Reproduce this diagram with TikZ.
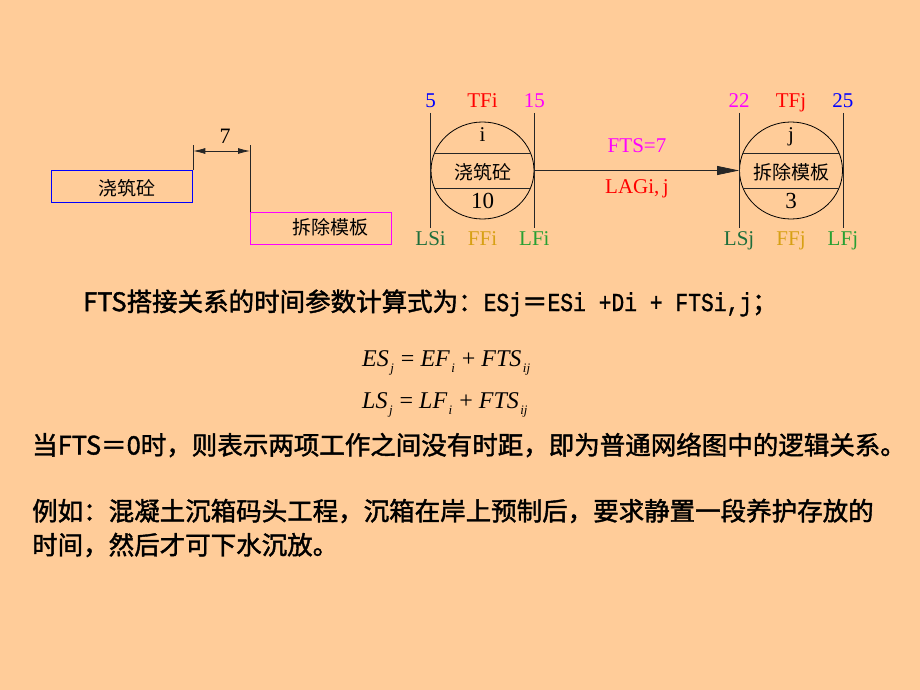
\documentclass[tikz,border=0pt]{standalone}
\usepackage{fontspec}
\usepackage{graphicx}
\setmainfont{Liberation Serif}
\newfontfamily\cjk{Noto Sans CJK SC}
\newfontfamily\cjkb[FakeBold=1.6]{Noto Sans CJK SC}
\newfontfamily\monof[FakeBold=1.2]{Liberation Mono}
\usetikzlibrary{shapes.geometric,arrows.meta,calc}
\definecolor{bg}{RGB}{255,204,153}
\definecolor{lsgreen}{RGB}{30,110,60}
\definecolor{ffgold}{RGB}{215,160,20}
\definecolor{lfgreen}{RGB}{40,160,50}
\definecolor{mag}{RGB}{255,0,255}
\newcommand{\sbx}[1]{\raisebox{-6pt}{\fontsize{13}{13}\selectfont\kern1.5pt #1\kern1pt}}
\newcommand{\mt}[1]{{\monof\fontsize{26}{26}\selectfont\scalebox{0.82}[1]{#1}}}
\tikzset{
  lbl/.style={font=\fontsize{21}{21}\selectfont, inner sep=0, anchor=base},
  cjklbl/.style={font=\cjk\fontsize{19}{19}\selectfont, inner sep=0},
  body/.style={font=\cjkb\fontsize{25.5}{25.5}\selectfont, inner sep=0, anchor=west},
  eqn/.style={font=\fontsize{24}{24}\selectfont\itshape, inner sep=0, anchor=west},
  actbox/.style={line width=1.3pt, minimum width=141pt, minimum height=32pt, inner sep=0, anchor=north west},
  evt/.style={ellipse, draw, line width=0.8pt, minimum width=103pt, minimum height=97pt, inner sep=0},
  ln/.style={line width=0.8pt, draw=black!85}
}
\begin{document}
\begin{tikzpicture}[x=1pt,y=-1pt]
\fill[bg] (0,0) rectangle (920,690);
\useasboundingbox (0,0) rectangle (920,690);

% left bar chart
\node[actbox, draw=blue] (b1) at (51,170) {};
\node[cjklbl] (t1) at (127,188) {浇筑砼};
\node[actbox, draw=mag] (b2) at (250,212) {};
\node[cjklbl] (t2) at (330,227) {拆除模板};
\draw[ln] (b1.north east) -- ++(0,-25) coordinate (d1);
\draw[ln] (b2.north west) -- ++(0,-67) coordinate (d2);
\draw[ln, {Latex[length=12pt,width=6pt]}-{Latex[length=12pt,width=6pt]}] ($(d1)+(0,6)$) -- ($(d2)+(0,6)$);
\node[lbl, font=\fontsize{22}{22}\selectfont] (seven) at (225,143) {7};

% event i
\node[evt] (ni) at (482.5,170.5) {};
\draw[ln] ($(ni)+(-48.4,-17)$) -- ($(ni)+(48.4,-17)$);
\draw[ln] ($(ni)+(-47.8,18)$) -- ($(ni)+(47.8,18)$);
\draw[ln] ($(ni.west)+(0,-57.5)$) -- ($(ni.west)+(0,57.5)$);
\draw[ln] ($(ni.east)+(0,-57.5)$) -- ($(ni.east)+(0,57.5)$);
\node[lbl] (ii) at ($(ni)+(0,-28.5)$) {i};
\node[cjklbl] (ina) at ($(ni)+(0,1.5)$) {浇筑砼};
\node[lbl, font=\fontsize{23}{23}\selectfont] (idur) at ($(ni)+(0,37.5)$) {10};
\node[lbl, text=blue] (ies) at ($(ni.west)+(0,-62.5)$) {5};
\node[lbl, text=red] (itf) at ($(ni)+(0,-62.5)$) {TFi};
\node[lbl, text=mag] (ief) at ($(ni.east)+(0,-62.5)$) {15};
\node[lbl, text=lsgreen] (ils) at ($(ni.west)+(0,75)$) {LSi};
\node[lbl, text=ffgold] (iff) at ($(ni)+(0,75)$) {FFi};
\node[lbl, text=lfgreen] (ilf) at ($(ni.east)+(0,75)$) {LFi};

% event j
\node[evt] (nj) at (791,170.5) {};
\draw[ln] ($(nj)+(-48.4,-17)$) -- ($(nj)+(48.4,-17)$);
\draw[ln] ($(nj)+(-47.8,18)$) -- ($(nj)+(47.8,18)$);
\draw[ln] ($(nj.west)+(0,-57.5)$) -- ($(nj.west)+(0,57.5)$);
\draw[ln] ($(nj.east)+(0,-57.5)$) -- ($(nj.east)+(0,57.5)$);
\node[lbl] (jj) at ($(nj)+(0,-28.5)$) {j};
\node[cjklbl] (jna) at ($(nj)+(0,1.5)$) {拆除模板};
\node[lbl, font=\fontsize{23}{23}\selectfont] (jdur) at ($(nj)+(0,37.5)$) {3};
\node[lbl, text=mag] (jes) at ($(nj.west)+(0,-62.5)$) {22};
\node[lbl, text=red] (jtf) at ($(nj)+(0,-62.5)$) {TFj};
\node[lbl, text=blue] (jef) at ($(nj.east)+(0,-62.5)$) {25};
\node[lbl, text=lsgreen] (jls) at ($(nj.west)+(0,75)$) {LSj};
\node[lbl, text=ffgold] (jff) at ($(nj)+(0,75)$) {FFj};
\node[lbl, text=lfgreen] (jlf) at ($(nj.east)+(0,75)$) {LFj};

% link
\draw[ln, -{Triangle[length=22pt,width=9pt]}] (ni.east) -- (nj.west);
\node[lbl, text=mag] (fts) at (637,152) {FTS=7};
\node[lbl, text=red] (lag) at (637,193) {LAGi,\,j};

% text
\node[body] (h1) at (83,303) {FTS搭接关系的时间参数计算式为：\mt{ESj}＝\mt{ESi +Di + FTSi,j}；};
\node[eqn] (e1) at (362,363) {ES\sbx{j}{\upshape\ =\ }EF\sbx{i}{\upshape\ +\ }FTS\sbx{ij}};
\node[eqn] (e2) at (362,405) {LS\sbx{j}{\upshape\ =\ }LF\sbx{i}{\upshape\ +\ }FTS\sbx{ij}};
\node[body] (p1) at (32,445) {当FTS＝0时，则表示两项工作之间没有时距，即为普通网络图中的逻辑关系。};
\node[body] (p2) at (32,511) {例如：混凝土沉箱码头工程，沉箱在岸上预制后，要求静置一段养护存放的};
\node[body] (p3) at (32,545) {时间，然后才可下水沉放。};
\end{tikzpicture}
\end{document}
